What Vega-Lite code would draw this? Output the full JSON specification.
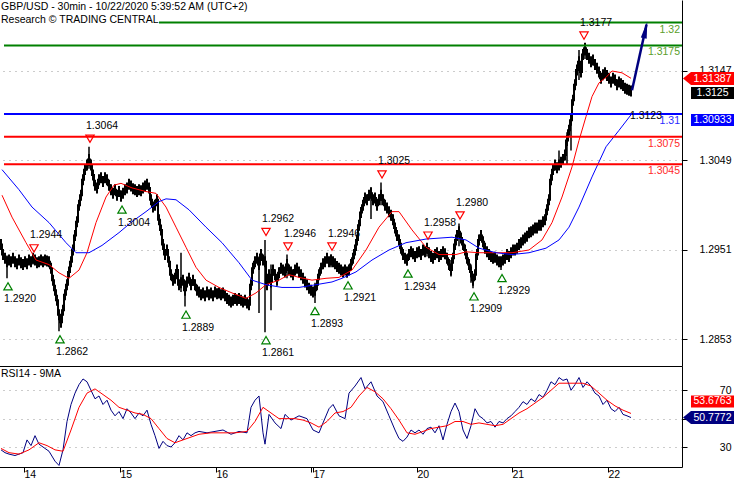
{
"$schema": "https://vega.github.io/schema/vega-lite/v6.json",
"padding": {"left": -5, "top": 0, "right": 0, "bottom": 0},
"spacing": 0,
"background": "#ffffff",
"config": {
  "view": {"stroke": null},
  "font": "Liberation Sans",
  "text": {"font": "Liberation Sans", "fontSize": 10.5},
  "axis": {"labelFont": "Liberation Sans", "labelFontSize": 10.5, "labelColor": "#000000", "domainColor": "#000000", "tickColor": "#000000"}
},
"datasets": {
  "px": [
{"t":0,"c":1.2953},{"t":1,"c":1.2957},{"t":2,"c":1.2946},{"t":3,"c":1.2942},{"t":4,"c":1.2938},{"t":5,"c":1.2940},{"t":6,"c":1.2938},{"t":7,"c":1.2942},{"t":8,"c":1.2938},{"t":9,"c":1.2936},
{"t":10,"c":1.2940},{"t":11,"c":1.2937},{"t":12,"c":1.2935},{"t":13,"c":1.2938},{"t":14,"c":1.2936},{"t":15,"c":1.2940},{"t":16,"c":1.2938},{"t":17,"c":1.2942},{"t":18,"c":1.2940},{"t":19,"c":1.2937},
{"t":20,"c":1.2938},{"t":21,"c":1.2940},{"t":22,"c":1.2938},{"t":23,"c":1.2940},{"t":24,"c":1.2939},{"t":25,"c":1.2938},{"t":26,"c":1.2931},{"t":27,"c":1.2918},{"t":28,"c":1.2907},{"t":29,"c":1.2896},
{"t":30,"c":1.2880},{"t":31,"c":1.2872},{"t":32,"c":1.2885},{"t":33,"c":1.2902},{"t":34,"c":1.2913},{"t":35,"c":1.2927},{"t":36,"c":1.2938},{"t":37,"c":1.2951},{"t":38,"c":1.2967},{"t":39,"c":1.2982},
{"t":40,"c":1.3000},{"t":41,"c":1.3011},{"t":42,"c":1.3028},{"t":43,"c":1.3039},{"t":44,"c":1.3044},{"t":45,"c":1.3050},{"t":46,"c":1.3044},{"t":47,"c":1.3033},{"t":48,"c":1.3022},{"t":49,"c":1.3019},
{"t":50,"c":1.3028},{"t":51,"c":1.3030},{"t":52,"c":1.3026},{"t":53,"c":1.3030},{"t":54,"c":1.3028},{"t":55,"c":1.3022},{"t":56,"c":1.3017},{"t":57,"c":1.3013},{"t":58,"c":1.3017},{"t":59,"c":1.3011},
{"t":60,"c":1.3015},{"t":61,"c":1.3010},{"t":62,"c":1.3013},{"t":63,"c":1.3017},{"t":64,"c":1.3019},{"t":65,"c":1.3023},{"t":66,"c":1.3021},{"t":67,"c":1.3018},{"t":68,"c":1.3017},{"t":69,"c":1.3015},
{"t":70,"c":1.3017},{"t":71,"c":1.3016},{"t":72,"c":1.3019},{"t":73,"c":1.3021},{"t":74,"c":1.3023},{"t":75,"c":1.3019},{"t":76,"c":1.3006},{"t":77,"c":1.2998},{"t":78,"c":1.3000},{"t":79,"c":1.3006},
{"t":80,"c":1.2984},{"t":81,"c":1.2973},{"t":82,"c":1.2957},{"t":83,"c":1.2946},{"t":84,"c":1.2951},{"t":85,"c":1.2938},{"t":86,"c":1.2924},{"t":87,"c":1.2918},{"t":88,"c":1.2920},{"t":89,"c":1.2929},
{"t":90,"c":1.2913},{"t":91,"c":1.2915},{"t":92,"c":1.2918},{"t":93,"c":1.2907},{"t":94,"c":1.2916},{"t":95,"c":1.2920},{"t":96,"c":1.2913},{"t":97,"c":1.2918},{"t":98,"c":1.2913},{"t":99,"c":1.2907},
{"t":100,"c":1.2905},{"t":101,"c":1.2902},{"t":102,"c":1.2904},{"t":103,"c":1.2901},{"t":104,"c":1.2905},{"t":105,"c":1.2902},{"t":106,"c":1.2904},{"t":107,"c":1.2901},{"t":108,"c":1.2905},{"t":109,"c":1.2903},
{"t":110,"c":1.2904},{"t":111,"c":1.2902},{"t":112,"c":1.2904},{"t":113,"c":1.2901},{"t":114,"c":1.2898},{"t":115,"c":1.2896},{"t":116,"c":1.2894},{"t":117,"c":1.2896},{"t":118,"c":1.2898},{"t":119,"c":1.2896},
{"t":120,"c":1.2898},{"t":121,"c":1.2896},{"t":122,"c":1.2894},{"t":123,"c":1.2896},{"t":124,"c":1.2893},{"t":125,"c":1.2891},{"t":126,"c":1.2913},{"t":127,"c":1.2931},{"t":128,"c":1.2938},{"t":129,"c":1.2942},
{"t":130,"c":1.2935},{"t":131,"c":1.2946},{"t":132,"c":1.2940},{"t":133,"c":1.2938},{"t":134,"c":1.2913},{"t":135,"c":1.2924},{"t":136,"c":1.2916},{"t":137,"c":1.2929},{"t":138,"c":1.2924},{"t":139,"c":1.2918},
{"t":140,"c":1.2926},{"t":141,"c":1.2931},{"t":142,"c":1.2929},{"t":143,"c":1.2927},{"t":144,"c":1.2935},{"t":145,"c":1.2929},{"t":146,"c":1.2927},{"t":147,"c":1.2924},{"t":148,"c":1.2929},{"t":149,"c":1.2931},
{"t":150,"c":1.2927},{"t":151,"c":1.2924},{"t":152,"c":1.2920},{"t":153,"c":1.2916},{"t":154,"c":1.2913},{"t":155,"c":1.2909},{"t":156,"c":1.2907},{"t":157,"c":1.2905},{"t":158,"c":1.2907},{"t":159,"c":1.2913},
{"t":160,"c":1.2924},{"t":161,"c":1.2931},{"t":162,"c":1.2936},{"t":163,"c":1.2938},{"t":164,"c":1.2942},{"t":165,"c":1.2938},{"t":166,"c":1.2940},{"t":167,"c":1.2938},{"t":168,"c":1.2936},{"t":169,"c":1.2933},
{"t":170,"c":1.2931},{"t":171,"c":1.2929},{"t":172,"c":1.2927},{"t":173,"c":1.2929},{"t":174,"c":1.2927},{"t":175,"c":1.2929},{"t":176,"c":1.2935},{"t":177,"c":1.2942},{"t":178,"c":1.2951},{"t":179,"c":1.2962},
{"t":180,"c":1.2978},{"t":181,"c":1.2992},{"t":182,"c":1.3000},{"t":183,"c":1.3008},{"t":184,"c":1.3006},{"t":185,"c":1.3011},{"t":186,"c":1.3013},{"t":187,"c":1.3006},{"t":188,"c":1.3008},{"t":189,"c":1.3000},
{"t":190,"c":1.3006},{"t":191,"c":1.3011},{"t":192,"c":1.3006},{"t":193,"c":1.3000},{"t":194,"c":1.2997},{"t":195,"c":1.2993},{"t":196,"c":1.2989},{"t":197,"c":1.2984},{"t":198,"c":1.2975},{"t":199,"c":1.2967},
{"t":200,"c":1.2962},{"t":201,"c":1.2953},{"t":202,"c":1.2946},{"t":203,"c":1.2942},{"t":204,"c":1.2940},{"t":205,"c":1.2946},{"t":206,"c":1.2949},{"t":207,"c":1.2947},{"t":208,"c":1.2944},{"t":209,"c":1.2948},
{"t":210,"c":1.2949},{"t":211,"c":1.2946},{"t":212,"c":1.2951},{"t":213,"c":1.2949},{"t":214,"c":1.2953},{"t":215,"c":1.2948},{"t":216,"c":1.2944},{"t":217,"c":1.2942},{"t":218,"c":1.2946},{"t":219,"c":1.2948},
{"t":220,"c":1.2944},{"t":221,"c":1.2946},{"t":222,"c":1.2949},{"t":223,"c":1.2947},{"t":224,"c":1.2942},{"t":225,"c":1.2935},{"t":226,"c":1.2929},{"t":227,"c":1.2942},{"t":228,"c":1.2957},{"t":229,"c":1.2967},
{"t":230,"c":1.2971},{"t":231,"c":1.2964},{"t":232,"c":1.2957},{"t":233,"c":1.2951},{"t":234,"c":1.2942},{"t":235,"c":1.2935},{"t":236,"c":1.2927},{"t":237,"c":1.2918},{"t":238,"c":1.2924},{"t":239,"c":1.2946},
{"t":240,"c":1.2962},{"t":241,"c":1.2967},{"t":242,"c":1.2960},{"t":243,"c":1.2953},{"t":244,"c":1.2949},{"t":245,"c":1.2946},{"t":246,"c":1.2944},{"t":247,"c":1.2942},{"t":248,"c":1.2943},{"t":249,"c":1.2940},
{"t":250,"c":1.2938},{"t":251,"c":1.2938},{"t":252,"c":1.2940},{"t":253,"c":1.2942},{"t":254,"c":1.2946},{"t":255,"c":1.2944},{"t":256,"c":1.2948},{"t":257,"c":1.2951},{"t":258,"c":1.2951},{"t":259,"c":1.2953},
{"t":260,"c":1.2957},{"t":261,"c":1.2959},{"t":262,"c":1.2962},{"t":263,"c":1.2964},{"t":264,"c":1.2966},{"t":265,"c":1.2970},{"t":266,"c":1.2971},{"t":267,"c":1.2973},{"t":268,"c":1.2975},{"t":269,"c":1.2975},
{"t":270,"c":1.2978},{"t":271,"c":1.2978},{"t":272,"c":1.2982},{"t":273,"c":1.2984},{"t":274,"c":1.2995},{"t":275,"c":1.3006},{"t":276,"c":1.3028},{"t":277,"c":1.3039},{"t":278,"c":1.3044},{"t":279,"c":1.3041},
{"t":280,"c":1.3044},{"t":281,"c":1.3047},{"t":282,"c":1.3050},{"t":283,"c":1.3055},{"t":284,"c":1.3071},{"t":285,"c":1.3082},{"t":286,"c":1.3093},{"t":287,"c":1.3115},{"t":288,"c":1.3132},{"t":289,"c":1.3148},
{"t":290,"c":1.3157},{"t":291,"c":1.3146},{"t":292,"c":1.3165},{"t":293,"c":1.3172},{"t":294,"c":1.3165},{"t":295,"c":1.3161},{"t":296,"c":1.3157},{"t":297,"c":1.3159},{"t":298,"c":1.3154},{"t":299,"c":1.3150},
{"t":300,"c":1.3146},{"t":301,"c":1.3139},{"t":302,"c":1.3143},{"t":303,"c":1.3145},{"t":304,"c":1.3142},{"t":305,"c":1.3139},{"t":306,"c":1.3135},{"t":307,"c":1.3139},{"t":308,"c":1.3137},{"t":309,"c":1.3132},
{"t":310,"c":1.3135},{"t":311,"c":1.3133},{"t":312,"c":1.3131},{"t":313,"c":1.3128},{"t":314,"c":1.3127},{"t":315,"c":1.3126},{"t":316,"c":1.3125}
  ],
  "wicks": [
{"t":4,"lo":1.2920,"hi":1.2945},{"t":17,"lo":1.2935,"hi":1.2944},{"t":30,"lo":1.2862,"hi":1.2885},{"t":45,"lo":1.3040,"hi":1.3064},{"t":61,"lo":1.3004,"hi":1.3016},
{"t":91,"lo":1.2905,"hi":1.2948},{"t":93,"lo":1.2889,"hi":1.2918},{"t":130,"lo":1.2882,"hi":1.2944},{"t":133,"lo":1.2861,"hi":1.2962},{"t":136,"lo":1.2885,"hi":1.2935},
{"t":144,"lo":1.2920,"hi":1.2946},{"t":158,"lo":1.2893,"hi":1.2915},{"t":166,"lo":1.2932,"hi":1.2946},{"t":174,"lo":1.2921,"hi":1.2932},{"t":186,"lo":1.2985,"hi":1.3020},
{"t":191,"lo":1.3000,"hi":1.3025},{"t":204,"lo":1.2934,"hi":1.2946},{"t":214,"lo":1.2944,"hi":1.2958},{"t":226,"lo":1.2922,"hi":1.2940},{"t":230,"lo":1.2955,"hi":1.2980},
{"t":236,"lo":1.2915,"hi":1.2935},{"t":237,"lo":1.2909,"hi":1.2925},{"t":251,"lo":1.2929,"hi":1.2942},{"t":280,"lo":1.3040,"hi":1.3060},{"t":284,"lo":1.3045,"hi":1.3080},
{"t":286,"lo":1.3060,"hi":1.3100},{"t":290,"lo":1.3137,"hi":1.3170},{"t":293,"lo":1.3160,"hi":1.3177}
  ],
  "ma": [
{"s":"fast","t":1.5,"p":1.3011},{"s":"fast","t":6.5,"p":1.2987},{"s":"fast","t":13.5,"p":1.2959},{"s":"fast","t":18.5,"p":1.2940},{"s":"fast","t":25,"p":1.2935},{"s":"fast","t":30,"p":1.2926},{"s":"fast","t":35,"p":1.2920},{"s":"fast","t":40,"p":1.2929},{"s":"fast","t":44,"p":1.2948},{"s":"fast","t":48.5,"p":1.2981},{"s":"fast","t":53.5,"p":1.3009},{"s":"fast","t":57.5,"p":1.3022},{"s":"fast","t":61,"p":1.3024},{"s":"fast","t":66.5,"p":1.3019},{"s":"fast","t":73.5,"p":1.3015},{"s":"fast","t":78.5,"p":1.3013},{"s":"fast","t":83.5,"p":1.2998},{"s":"fast","t":88.5,"p":1.2976},{"s":"fast","t":93.5,"p":1.2954},{"s":"fast","t":98.5,"p":1.2932},{"s":"fast","t":103.5,"p":1.2918},{"s":"fast","t":110,"p":1.2910},{"s":"fast","t":116.5,"p":1.2904},{"s":"fast","t":123.5,"p":1.2898},{"s":"fast","t":128.5,"p":1.2904},{"s":"fast","t":133.5,"p":1.2913},{"s":"fast","t":140,"p":1.2918},{"s":"fast","t":145,"p":1.2924},{"s":"fast","t":150,"p":1.2921},{"s":"fast","t":156.5,"p":1.2918},{"s":"fast","t":163.5,"p":1.2920},{"s":"fast","t":170,"p":1.2921},{"s":"fast","t":176.5,"p":1.2929},{"s":"fast","t":183.5,"p":1.2951},{"s":"fast","t":190,"p":1.2976},{"s":"fast","t":196.5,"p":1.2993},{"s":"fast","t":200,"p":1.2993},{"s":"fast","t":206.5,"p":1.2973},{"s":"fast","t":213.5,"p":1.2954},{"s":"fast","t":220,"p":1.2946},{"s":"fast","t":228.5,"p":1.2946},{"s":"fast","t":233.5,"p":1.2949},{"s":"fast","t":240,"p":1.2948},{"s":"fast","t":248.5,"p":1.2948},{"s":"fast","t":256.5,"p":1.2948},{"s":"fast","t":265,"p":1.2951},{"s":"fast","t":271.5,"p":1.2962},{"s":"fast","t":276.5,"p":1.2981},{"s":"fast","t":281.5,"p":1.3009},{"s":"fast","t":286.5,"p":1.3042},{"s":"fast","t":290,"p":1.3071},{"s":"fast","t":293.5,"p":1.3097},{"s":"fast","t":296.5,"p":1.3119},{"s":"fast","t":300,"p":1.3134},{"s":"fast","t":303.5,"p":1.3140},{"s":"fast","t":306.5,"p":1.3147},{"s":"fast","t":311.5,"p":1.3145},{"s":"fast","t":316,"p":1.3139},
{"s":"slow","t":1.5,"p":1.3039},{"s":"slow","t":10,"p":1.3017},{"s":"slow","t":16.5,"p":1.2998},{"s":"slow","t":25,"p":1.2981},{"s":"slow","t":33.5,"p":1.2959},{"s":"slow","t":38.5,"p":1.2948},{"s":"slow","t":45,"p":1.2948},{"s":"slow","t":51.5,"p":1.2956},{"s":"slow","t":60,"p":1.2970},{"s":"slow","t":66.5,"p":1.2982},{"s":"slow","t":73.5,"p":1.2993},{"s":"slow","t":80,"p":1.3004},{"s":"slow","t":83.5,"p":1.3007},{"s":"slow","t":88.5,"p":1.3006},{"s":"slow","t":95,"p":1.2995},{"s":"slow","t":103.5,"p":1.2976},{"s":"slow","t":111.5,"p":1.2959},{"s":"slow","t":120,"p":1.2937},{"s":"slow","t":126.5,"p":1.2918},{"s":"slow","t":133.5,"p":1.2913},{"s":"slow","t":141.5,"p":1.2910},{"s":"slow","t":150,"p":1.2910},{"s":"slow","t":158.5,"p":1.2913},{"s":"slow","t":166.5,"p":1.2916},{"s":"slow","t":171.5,"p":1.2920},{"s":"slow","t":178.5,"p":1.2927},{"s":"slow","t":186.5,"p":1.2940},{"s":"slow","t":195,"p":1.2951},{"s":"slow","t":203.5,"p":1.2959},{"s":"slow","t":213.5,"p":1.2963},{"s":"slow","t":226.5,"p":1.2965},{"s":"slow","t":233.5,"p":1.2962},{"s":"slow","t":240,"p":1.2953},{"s":"slow","t":248.5,"p":1.2948},{"s":"slow","t":256.5,"p":1.2946},{"s":"slow","t":265,"p":1.2948},{"s":"slow","t":273.5,"p":1.2953},{"s":"slow","t":280,"p":1.2962},{"s":"slow","t":285,"p":1.2976},{"s":"slow","t":290,"p":1.2998},{"s":"slow","t":296.5,"p":1.3031},{"s":"slow","t":303.5,"p":1.3064},{"s":"slow","t":310,"p":1.3082},{"s":"slow","t":316,"p":1.3099}
  ],
  "levels": [
{"p":1.3175,"kind":"resistance"},{"p":1.31,"kind":"pivot"},{"p":1.3075,"kind":"support"},{"p":1.3045,"kind":"support"}
  ],
  "levelLabels": [
{"p":1.32,"kind":"resistance"},{"p":1.3175,"kind":"resistance"},{"p":1.31,"kind":"pivot"},{"p":1.3075,"kind":"support"},{"p":1.3045,"kind":"support"}
  ],
  "lows": [
{"t":4.5,"p":1.2920},{"t":30.5,"p":1.2862},{"t":61.5,"p":1.3004},{"t":93.5,"p":1.2889},{"t":133.5,"p":1.2861},{"t":158,"p":1.2893},{"t":174.5,"p":1.2921},{"t":204.5,"p":1.2934},{"t":237.5,"p":1.2909},{"t":251.5,"p":1.2929}
  ],
  "highs": [
{"t":17.5,"p":1.2944},{"t":45.5,"p":1.3064},{"t":133.5,"p":1.2962},{"t":144.5,"p":1.2946},{"t":166.5,"p":1.2946},{"t":191.5,"p":1.3025},{"t":214.5,"p":1.2958},{"t":230.5,"p":1.2980},{"t":292.5,"p":1.3177}
  ],
  "forecast": [
{"t":316.5,"p":1.3126},{"t":323.75,"p":1.3198}
  ],
  "rsi": [
{"t":1,"v":28},{"t":3,"v":26},{"t":5,"v":25},{"t":8,"v":24},{"t":10,"v":25},{"t":12,"v":26},{"t":14,"v":35},{"t":16,"v":31},{"t":18,"v":38},{"t":20,"v":32},{"t":22,"v":30},{"t":25,"v":27},{"t":28,"v":20},{"t":30,"v":17},{"t":32,"v":28},{"t":34,"v":48},{"t":36,"v":60},{"t":38,"v":68},{"t":40,"v":74},{"t":42,"v":78},{"t":44,"v":76},{"t":46,"v":70},{"t":48,"v":64},{"t":50,"v":66},{"t":52,"v":60},{"t":54,"v":63},{"t":56,"v":56},{"t":58,"v":52},{"t":60,"v":55},{"t":62,"v":50},{"t":64,"v":57},{"t":66,"v":54},{"t":68,"v":50},{"t":70,"v":54},{"t":72,"v":52},{"t":74,"v":56},{"t":76,"v":46},{"t":78,"v":38},{"t":80,"v":29},{"t":82,"v":34},{"t":84,"v":31},{"t":86,"v":30},{"t":88,"v":33},{"t":90,"v":38},{"t":92,"v":35},{"t":94,"v":40},{"t":96,"v":38},{"t":98,"v":40},{"t":100,"v":41},{"t":104,"v":40},{"t":108,"v":41},{"t":112,"v":42},{"t":116,"v":39},{"t":120,"v":41},{"t":124,"v":40},{"t":126,"v":58},{"t":128,"v":63},{"t":130,"v":66},{"t":132,"v":40},{"t":133,"v":32},{"t":135,"v":53},{"t":138,"v":47},{"t":141,"v":43},{"t":143,"v":53},{"t":146,"v":49},{"t":150,"v":52},{"t":154,"v":50},{"t":157,"v":42},{"t":160,"v":40},{"t":162,"v":47},{"t":165,"v":57},{"t":167,"v":60},{"t":170,"v":52},{"t":173,"v":50},{"t":175,"v":68},{"t":178,"v":73},{"t":181,"v":79},{"t":183,"v":71},{"t":186,"v":76},{"t":189,"v":66},{"t":192,"v":62},{"t":195,"v":52},{"t":198,"v":42},{"t":200,"v":36},{"t":202,"v":34},{"t":204,"v":37},{"t":206,"v":42},{"t":208,"v":40},{"t":210,"v":42},{"t":212,"v":39},{"t":214,"v":43},{"t":216,"v":44},{"t":218,"v":40},{"t":220,"v":45},{"t":222,"v":35},{"t":224,"v":46},{"t":226,"v":55},{"t":228,"v":61},{"t":230,"v":55},{"t":232,"v":42},{"t":234,"v":36},{"t":236,"v":45},{"t":238,"v":57},{"t":240,"v":52},{"t":242,"v":50},{"t":244,"v":47},{"t":246,"v":48},{"t":248,"v":44},{"t":250,"v":48},{"t":252,"v":47},{"t":254,"v":50},{"t":256,"v":52},{"t":258,"v":55},{"t":260,"v":58},{"t":262,"v":62},{"t":264,"v":60},{"t":266,"v":64},{"t":268,"v":62},{"t":270,"v":67},{"t":272,"v":65},{"t":274,"v":70},{"t":276,"v":76},{"t":278,"v":74},{"t":280,"v":79},{"t":282,"v":77},{"t":284,"v":78},{"t":286,"v":70},{"t":288,"v":74},{"t":290,"v":79},{"t":292,"v":72},{"t":294,"v":76},{"t":296,"v":73},{"t":298,"v":68},{"t":300,"v":66},{"t":302,"v":60},{"t":304,"v":63},{"t":306,"v":57},{"t":308,"v":55},{"t":310,"v":58},{"t":312,"v":53},{"t":314,"v":52},{"t":316,"v":50.78}
  ],
  "rsima": [
{"t":1,"v":29},{"t":5,"v":26},{"t":10,"v":25},{"t":15,"v":28},{"t":20,"v":33},{"t":24,"v":31},{"t":28,"v":28},{"t":32,"v":27},{"t":36,"v":42},{"t":40,"v":58},{"t":44,"v":68},{"t":48,"v":71},{"t":52,"v":67},{"t":56,"v":63},{"t":60,"v":58},{"t":64,"v":56},{"t":68,"v":54},{"t":72,"v":53},{"t":76,"v":50},{"t":80,"v":43},{"t":84,"v":36},{"t":88,"v":33},{"t":92,"v":35},{"t":96,"v":37},{"t":100,"v":39},{"t":106,"v":40},{"t":112,"v":40},{"t":118,"v":40},{"t":124,"v":41},{"t":128,"v":48},{"t":132,"v":58},{"t":136,"v":54},{"t":140,"v":50},{"t":144,"v":50},{"t":148,"v":50},{"t":152,"v":49},{"t":156,"v":47},{"t":160,"v":44},{"t":164,"v":48},{"t":168,"v":54},{"t":172,"v":55},{"t":176,"v":58},{"t":180,"v":66},{"t":184,"v":72},{"t":188,"v":69},{"t":192,"v":64},{"t":196,"v":57},{"t":200,"v":49},{"t":204,"v":40},{"t":208,"v":39},{"t":212,"v":41},{"t":216,"v":43},{"t":220,"v":44},{"t":224,"v":45},{"t":228,"v":48},{"t":232,"v":48},{"t":236,"v":46},{"t":240,"v":47},{"t":244,"v":46},{"t":248,"v":45},{"t":252,"v":46},{"t":256,"v":50},{"t":260,"v":54},{"t":264,"v":57},{"t":268,"v":61},{"t":272,"v":65},{"t":276,"v":70},{"t":280,"v":75},{"t":284,"v":75},{"t":288,"v":75},{"t":292,"v":75},{"t":296,"v":73},{"t":300,"v":68},{"t":304,"v":63},{"t":308,"v":59},{"t":312,"v":56},{"t":316,"v":53.68}
  ]
},
"vconcat": [
{
  "width": 683,
  "height": 366,
  "layer": [
    {"data": {"name": "px"},
     "mark": {"type": "line", "interpolate": "step", "color": "#000000", "strokeWidth": 2},
     "encoding": {
       "x": {"field": "t", "type": "quantitative", "title": null, "scale": {"domain": [0, 341.5], "nice": false, "zero": false}, "axis": {"domain": true, "ticks": false, "labels": false, "grid": false, "title": null}},
       "y": {"field": "c", "type": "quantitative", "title": null, "scale": {"domain": [1.282398, 1.322473], "nice": false, "zero": false},
             "axis": {"orient": "right", "title": null, "values": [1.2853, 1.2951, 1.3049, 1.3147], "format": ".4f", "grid": true, "gridDash": [1, 5], "gridColor": "#999999", "tickSize": 5, "labelAlign": "right", "labelPadding": 44, "labelBaseline": "middle"}}
     }},
    {"data": {"name": "px"},
     "mark": {"type": "rule", "color": "#000000", "strokeWidth": 2, "yOffset": -5.5, "y2Offset": 5.5},
     "encoding": {"x": {"field": "t", "type": "quantitative"}, "y": {"field": "c", "type": "quantitative"}, "y2": {"field": "c"}}},
    {"data": {"name": "wicks"},
     "mark": {"type": "rule", "color": "#000000", "strokeWidth": 1.5},
     "encoding": {"x": {"field": "t", "type": "quantitative"}, "y": {"field": "lo", "type": "quantitative"}, "y2": {"field": "hi"}}},
    {"data": {"name": "ma"},
     "mark": {"type": "line", "strokeWidth": 1},
     "encoding": {"x": {"field": "t", "type": "quantitative"}, "y": {"field": "p", "type": "quantitative"},
       "stroke": {"field": "s", "type": "nominal", "scale": {"domain": ["fast", "slow"], "range": ["#ff0000", "#0000ff"]}, "legend": null}}},
    {"data": {"name": "levels"},
     "mark": {"type": "rule", "strokeWidth": 2},
     "encoding": {"x": {"datum": 2.5}, "x2": {"datum": 341.5}, "y": {"field": "p", "type": "quantitative"},
       "color": {"field": "kind", "type": "nominal", "scale": {"domain": ["resistance", "pivot", "support"], "range": ["#008000", "#0000ff", "#ff0000"]}, "legend": null}}},
    {"data": {"values": [{"p": 1.32}]},
     "mark": {"type": "rule", "strokeWidth": 2, "color": "#008000"},
     "encoding": {"x": {"datum": 80}, "x2": {"datum": 341.5}, "y": {"field": "p", "type": "quantitative"}}},
    {"data": {"name": "levelLabels"},
     "mark": {"type": "text", "align": "right", "baseline": "middle", "dy": 7},
     "encoding": {"x": {"datum": 340.5}, "y": {"field": "p", "type": "quantitative"},
       "text": {"field": "p", "type": "nominal"},
       "fill": {"field": "kind", "type": "nominal", "scale": {"domain": ["resistance", "pivot", "support"], "range": ["#5a9e2a", "#2a2aff", "#ff2a2a"]}, "legend": null}}},
    {"data": {"name": "lows"},
     "mark": {"type": "point", "shape": "triangle-up", "size": 70, "filled": false, "stroke": "#008000", "strokeWidth": 1.2, "opacity": 1, "yOffset": 8},
     "encoding": {"x": {"field": "t", "type": "quantitative"}, "y": {"field": "p", "type": "quantitative"}}},
    {"data": {"name": "lows"},
     "mark": {"type": "text", "align": "left", "baseline": "middle", "dx": -4, "dy": 21, "color": "#000000"},
     "encoding": {"x": {"field": "t", "type": "quantitative"}, "y": {"field": "p", "type": "quantitative"}, "text": {"field": "p", "type": "quantitative", "format": ".4f"}}},
    {"data": {"name": "highs"},
     "mark": {"type": "point", "shape": "triangle-down", "size": 70, "filled": false, "stroke": "#ff0000", "strokeWidth": 1.2, "opacity": 1, "yOffset": -8},
     "encoding": {"x": {"field": "t", "type": "quantitative"}, "y": {"field": "p", "type": "quantitative"}}},
    {"data": {"name": "highs"},
     "mark": {"type": "text", "align": "left", "baseline": "middle", "dx": -4, "dy": -21, "color": "#000000"},
     "encoding": {"x": {"field": "t", "type": "quantitative"}, "y": {"field": "p", "type": "quantitative"}, "text": {"field": "p", "type": "quantitative", "format": ".4f"}}},
    {"data": {"name": "forecast"},
     "mark": {"type": "line", "color": "#000080", "strokeWidth": 2.5},
     "encoding": {"x": {"field": "t", "type": "quantitative"}, "y": {"field": "p", "type": "quantitative"}}},
    {"data": {"values": [{"t": 323.25, "p": 1.31919}]},
     "mark": {"type": "point", "shape": "M0,-1L0.36,1L-0.36,1Z", "size": 280, "angle": 12, "filled": true, "fill": "#000080", "strokeWidth": 0, "opacity": 1},
     "encoding": {"x": {"field": "t", "type": "quantitative"}, "y": {"field": "p", "type": "quantitative"}}},
    {"data": {"values": [{"label": "1.3123"}]},
     "mark": {"type": "text", "align": "center", "baseline": "middle", "color": "#000000"},
     "encoding": {"x": {"datum": 323.5}, "y": {"datum": 1.3098}, "text": {"field": "label", "type": "nominal"}}},
    {"data": {"values": [{"label": "GBP/USD - 30min - 10/22/2020 5:39:52 AM (UTC+2)"}]},
     "mark": {"type": "text", "align": "left", "baseline": "middle", "color": "#000000"},
     "encoding": {"x": {"datum": 1}, "y": {"datum": 1.32171}, "text": {"field": "label", "type": "nominal"}}},
    {"data": {"values": [{"label": "Research © TRADING CENTRAL"}]},
     "mark": {"type": "text", "align": "left", "baseline": "middle", "color": "#000000"},
     "encoding": {"x": {"datum": 1}, "y": {"datum": 1.32028}, "text": {"field": "label", "type": "nominal"}}},
    {"data": {"values": [{"v": 1.31387}]},
     "mark": {"type": "point", "shape": "M-1,0L-0.686,-0.255L1,-0.255L1,0.255L-0.686,0.255Z", "size": 2601, "filled": true, "fill": "#ff0000", "strokeWidth": 0, "opacity": 1},
     "encoding": {"x": {"datum": 354.75}, "y": {"field": "v", "type": "quantitative"}}},
    {"data": {"values": [{"v": 1.31387}]},
     "mark": {"type": "text", "align": "center", "baseline": "middle", "color": "#ffffff"},
     "encoding": {"x": {"datum": 356.75}, "y": {"field": "v", "type": "quantitative"}, "text": {"field": "v", "type": "nominal"}}},
    {"data": {"values": [{"v": 1.3125}]},
     "mark": {"type": "point", "shape": "M-1,-0.279L1,-0.279L1,0.279L-1,0.279Z", "size": 1849, "filled": true, "fill": "#000000", "strokeWidth": 0, "opacity": 1, "yOffset": 2},
     "encoding": {"x": {"datum": 356.75}, "y": {"field": "v", "type": "quantitative"}}},
    {"data": {"values": [{"v": 1.3125}]},
     "mark": {"type": "text", "align": "center", "baseline": "middle", "color": "#ffffff", "yOffset": 2},
     "encoding": {"x": {"datum": 356.75}, "y": {"field": "v", "type": "quantitative"}, "text": {"field": "v", "type": "nominal"}}},
    {"data": {"values": [{"v": 1.30933}]},
     "mark": {"type": "point", "shape": "M-1,-0.279L1,-0.279L1,0.279L-1,0.279Z", "size": 1849, "filled": true, "fill": "#0000ff", "strokeWidth": 0, "opacity": 1},
     "encoding": {"x": {"datum": 356.75}, "y": {"field": "v", "type": "quantitative"}}},
    {"data": {"values": [{"v": 1.30933}]},
     "mark": {"type": "text", "align": "center", "baseline": "middle", "color": "#ffffff"},
     "encoding": {"x": {"datum": 356.75}, "y": {"field": "v", "type": "quantitative"}, "text": {"field": "v", "type": "nominal"}}}
  ]
},
{
  "width": 683,
  "height": 101,
  "layer": [
    {"data": {"name": "rsi"},
     "mark": {"type": "line", "color": "#000080", "strokeWidth": 1},
     "encoding": {
       "x": {"field": "t", "type": "quantitative", "title": null, "scale": {"domain": [0, 341.5], "nice": false, "zero": false},
             "axis": {"title": null, "values": [12.5, 60.5, 108.5, 155.8, 157, 209, 256.5, 304.5],
                      "labelExpr": "datum.value < 20 ? '14' : datum.value < 70 ? '15' : datum.value < 120 ? '16' : datum.value < 156 ? '' : datum.value < 180 ? '17' : datum.value < 230 ? '20' : datum.value < 280 ? '21' : '22'",
                      "tickSize": 5, "labelAlign": "left", "labelBaseline": "top", "labelPadding": -3, "labelDx": 2, "grid": false, "labelFlush": false, "labelOverlap": false}},
       "y": {"field": "v", "type": "quantitative", "title": null, "scale": {"domain": [15.9, 87.14], "nice": false, "zero": false},
             "axis": {"orient": "right", "title": null, "values": [30, 50, 70], "labelExpr": "datum.value == 50 ? '' : datum.label", "grid": true, "gridDash": [1, 5], "gridColor": "#999999", "tickSize": 5, "labelAlign": "right", "labelPadding": 44, "labelBaseline": "middle"}}
     }},
    {"data": {"name": "rsima"},
     "mark": {"type": "line", "color": "#ff0000", "strokeWidth": 1},
     "encoding": {"x": {"field": "t", "type": "quantitative"}, "y": {"field": "v", "type": "quantitative"}}},
    {"data": {"values": [{"label": "RSI14 - 9MA"}]},
     "mark": {"type": "text", "align": "left", "baseline": "middle", "color": "#000000"},
     "encoding": {"x": {"datum": 1}, "y": {"datum": 81.5}, "text": {"field": "label", "type": "nominal"}}},
    {"data": {"values": [{"v": 53.6763}]},
     "mark": {"type": "point", "shape": "M-1,-0.279L1,-0.279L1,0.279L-1,0.279Z", "size": 1849, "filled": true, "fill": "#ff0000", "strokeWidth": 0, "opacity": 1, "yOffset": -12},
     "encoding": {"x": {"datum": 356.75}, "y": {"field": "v", "type": "quantitative"}}},
    {"data": {"values": [{"v": 53.6763}]},
     "mark": {"type": "text", "align": "center", "baseline": "middle", "color": "#ffffff", "yOffset": -12},
     "encoding": {"x": {"datum": 356.75}, "y": {"field": "v", "type": "quantitative"}, "text": {"field": "v", "type": "nominal"}}},
    {"data": {"values": [{"v": 50.7772}]},
     "mark": {"type": "point", "shape": "M-1,0L-0.686,-0.255L1,-0.255L1,0.255L-0.686,0.255Z", "size": 2601, "filled": true, "fill": "#000080", "strokeWidth": 0, "opacity": 1},
     "encoding": {"x": {"datum": 354.75}, "y": {"field": "v", "type": "quantitative"}}},
    {"data": {"values": [{"v": 50.7772}]},
     "mark": {"type": "text", "align": "center", "baseline": "middle", "color": "#ffffff"},
     "encoding": {"x": {"datum": 356.75}, "y": {"field": "v", "type": "quantitative"}, "text": {"field": "v", "type": "nominal"}}}
  ]
}
]
}
